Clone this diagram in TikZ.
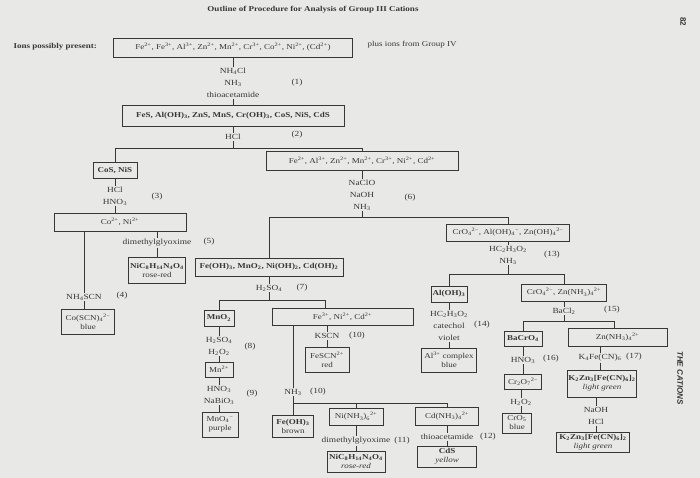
\documentclass[tikz,border=0pt]{standalone}
\usepackage{fontspec}
\setmainfont{Liberation Serif}[FakeStretch=1.2]
\newfontfamily\sidefont{Liberation Sans}

\definecolor{ink}{RGB}{55,55,55}
\definecolor{paper}{RGB}{232,232,230}

\newcommand{\chsb}[1]{\textsubscript{#1}}
\newcommand{\chsp}[1]{\textsuperscript{#1}}
\newcommand{\boxfont}{\fontsize{7.5}{9}\selectfont}
\newcommand{\reagfont}{\fontsize{7.8}{12}\selectfont}

\tikzset{
  box/.style={draw=ink, line width=0.6pt, inner sep=1pt, align=center, text=ink, font=\boxfont},
  bx/.style 2 args={box, minimum width=#1, minimum height=#2},
  reag/.style={inner sep=1pt, align=center, text=ink, font=\reagfont},
  stepno/.style={inner sep=0pt, text=ink, font=\reagfont},
  lnk/.style={draw=ink, line width=0.6pt}
}

\begin{document}
\begin{tikzpicture}[x=1pt, y=-1pt]
    \useasboundingbox (0,0) rectangle (700,478);
    \fill[paper] (0,0) rectangle (700,478);

    % Heading and page furniture
    \node[text=ink, font=\bfseries\fontsize{7.5}{9}\selectfont] (title) at (313,10) {Outline of Procedure for Analysis of Group III Cations};
    \node[rotate=-90, text=ink, font=\sidefont\bfseries\fontsize{8}{9}\selectfont] (pgno) at (683,22) {82};
    \node[rotate=-90, text=ink, font=\sidefont\bfseries\itshape\fontsize{8}{9}\selectfont] (runhead) at (680,378) {THE CATIONS};
    \node[anchor=west, text=ink, font=\bfseries\boxfont] (ionlbl) at (10,47) {Ions possibly present:};
    \node[anchor=west, text=ink, font=\boxfont] (grp4) at (364,45) {plus ions from Group IV};

    % Precipitation of the group (1), (2)
    \node[bx={239pt}{19pt}] (ions) at (233,47.5) {Fe\chsp{2+}, Fe\chsp{3+}, Al\chsp{3+}, Zn\chsp{2+}, Mn\chsp{2+}, Cr\chsp{3+}, Co\chsp{2+}, Ni\chsp{2+}, (Cd\chsp{2+})};
    \node[reag] (r1) at (233,83) {NH\chsb{4}Cl\\NH\chsb{3}\\thioacetamide};
    \node[bx={222pt}{21pt}] (sulf) at (233,115.5) {\textbf{FeS, Al(OH)\chsb{3}, ZnS, MnS, Cr(OH)\chsb{3}, CoS, NiS, CdS}};
    \node[reag] (r2) at (233,137) {HCl};
    \coordinate (j2) at (233,148);
    \coordinate (j2l) at (115,148);
    \coordinate (j2r) at (362,148);
    \node[bx={44pt}{16pt}] (cosnis) at (115,170) {\textbf{CoS, NiS}};
    \node[bx={192pt}{19pt}] (fe2box) at (362,160.5) {Fe\chsp{2+}, Al\chsp{3+}, Zn\chsp{2+}, Mn\chsp{2+}, Cr\chsp{3+}, Ni\chsp{2+}, Cd\chsp{2+}};
    \draw[lnk] (ions) -- (r1) -- (sulf);
    \draw[lnk] (sulf) -- (r2) -- (j2);
    \draw[lnk] (j2l) -- (j2r);
    \draw[lnk] (j2l) -- (cosnis);
    \draw[lnk] (j2r) -- (fe2box);

    % Cobalt and nickel (3), (4), (5)
    \node[reag] (r3) at (115,196) {HCl\\HNO\chsb{3}};
    \node[bx={132pt}{18pt}] (coni) at (120,222) {Co\chsp{2+}, Ni\chsp{2+}};
    \node[reag] (r4) at (84,297) {NH\chsb{4}SCN};
    \node[bx={53pt}{25pt}] (cosc) at (88,321.5) {Co(SCN)\chsb{4}\chsp{2−}\\blue};
    \node[reag] (r5) at (157,243) {dimethylglyoxime};
    \node[bx={57pt}{26pt}] (nidmg) at (157,270) {\textbf{NiC\chsb{8}H\chsb{14}N\chsb{4}O\chsb{4}}\\rose-red};
    \draw[lnk] (cosnis) -- (r3) -- (r3 |- coni.north);
    \draw[lnk] (coni.south -| r4) -- (r4) -- (r4 |- cosc.north);
    \draw[lnk] (coni.south -| r5) -- (r5) -- (nidmg);

    % Oxidation with hypochlorite (6)
    \node[reag] (r6) at (362,195) {NaClO\\NaOH\\NH\chsb{3}};
    \coordinate (j6) at (362,217);
    \coordinate (j6l) at (269,217);
    \coordinate (j6r) at (508,217);
    \node[bx={148pt}{18pt}] (hyd) at (269,267) {\textbf{Fe(OH)\chsb{3}, MnO\chsb{2}, Ni(OH)\chsb{2}, Cd(OH)\chsb{2}}};
    \node[bx={123pt}{17pt}] (amph) at (508,232.5) {CrO\chsb{4}\chsp{2−}, Al(OH)\chsb{4}\chsp{−}, Zn(OH)\chsb{4}\chsp{2−}};
    \draw[lnk] (fe2box) -- (r6) -- (j6);
    \draw[lnk] (j6l) -- (j6r);
    \draw[lnk] (j6l) -- (hyd);
    \draw[lnk] (j6r) -- (amph);

    % Hydroxides (7) to (12)
    \node[reag] (r7) at (269,288) {H\chsb{2}SO\chsb{4}};
    \coordinate (j7) at (269,300);
    \coordinate (j7l) at (219,300);
    \coordinate (j7r) at (325,300);
    \node[bx={30pt}{16pt}] (mno2) at (219,318) {\textbf{MnO\chsb{2}}};
    \node[bx={141pt}{17pt}] (fe3) at (342.5,316.5) {Fe\chsp{3+}, Ni\chsp{2+}, Cd\chsp{2+}};
    \draw[lnk] (hyd) -- (r7) -- (j7);
    \draw[lnk] (j7l) -- (j7r);
    \draw[lnk] (j7l) -- (mno2);
    \draw[lnk] (j7r) -- (j7r |- fe3.north);

    \node[reag] (r8) at (219,346) {H\chsb{2}SO\chsb{4}\\H\chsb{2}O\chsb{2}};
    \node[bx={28pt}{15pt}] (mn2) at (219,369.5) {Mn\chsp{2+}};
    \node[reag] (r9) at (219,395) {HNO\chsb{3}\\NaBiO\chsb{3}};
    \node[bx={36pt}{25pt}] (mno4) at (220,424.5) {MnO\chsb{4}\chsp{−}\\purple};
    \draw[lnk] (mno2) -- (r8) -- (mn2) -- (r9) -- (r9 |- mno4.north);

    \node[reag] (r10) at (327,336) {KSCN};
    \node[bx={44pt}{25pt}] (fescn) at (327,359.5) {FeSCN\chsp{2+}\\red};
    \node[reag] (r10b) at (293,392) {NH\chsb{3}};
    \coordinate (j10) at (293,403);
    \coordinate (j10r) at (447,403);
    \node[bx={41pt}{22pt}] (feoh) at (293,426) {\textbf{Fe(OH)\chsb{3}}\\brown};
    \node[bx={54pt}{17pt}] (ninh) at (356,416.5) {Ni(NH\chsb{3})\chsb{6}\chsp{2+}};
    \node[bx={63pt}{18pt}] (cdnh) at (447,416) {Cd(NH\chsb{3})\chsb{4}\chsp{2+}};
    \node[reag] (r11) at (356,441) {dimethylglyoxime};
    \node[bx={58pt}{21pt}] (nidmg2) at (356,461.5) {\textbf{NiC\chsb{8}H\chsb{14}N\chsb{4}O\chsb{4}}\\\textit{rose-red}};
    \node[reag] (r12) at (447,437) {thioacetamide};
    \node[bx={59pt}{21pt}] (cds) at (447,456.5) {\textbf{CdS}\\\textit{yellow}};
    \draw[lnk] (fe3.south -| r10) -- (r10) -- (fescn);
    \draw[lnk] (fe3.south -| r10b) -- (r10b) -- (j10);
    \draw[lnk] (j10) -- (j10r);
    \draw[lnk] (j10) -- (feoh);
    \draw[lnk] (j10 -| ninh) -- (ninh);
    \draw[lnk] (j10r) -- (cdnh);
    \draw[lnk] (ninh) -- (r11) -- (nidmg2);
    \draw[lnk] (cdnh) -- (r12) -- (cds);

    % Amphoteric ions (13) to (17)
    \node[reag] (r13) at (508,255) {HC\chsb{2}H\chsb{3}O\chsb{2}\\NH\chsb{3}};
    \coordinate (j13) at (508,274);
    \coordinate (j13l) at (449,274);
    \coordinate (j13r) at (564,274);
    \node[bx={36pt}{16pt}] (aloh) at (449,294) {\textbf{Al(OH)\chsb{3}}};
    \node[bx={85pt}{17pt}] (crzn) at (564,292.5) {CrO\chsb{4}\chsp{2−}, Zn(NH\chsb{3})\chsb{4}\chsp{2+}};
    \draw[lnk] (amph) -- (r13) -- (j13);
    \draw[lnk] (j13l) -- (j13r);
    \draw[lnk] (j13l) -- (aloh);
    \draw[lnk] (j13r) -- (crzn);

    \node[reag] (r14) at (449,326) {HC\chsb{2}H\chsb{3}O\chsb{2}\\catechol\\violet};
    \node[bx={55pt}{24pt}] (alcx) at (449,360) {Al\chsp{3+} complex\\blue};
    \draw[lnk] (aloh) -- (r14) -- (alcx);

    \node[reag] (r15) at (564,311) {BaCl\chsb{2}};
    \coordinate (j15) at (564,321);
    \coordinate (j15l) at (523,321);
    \coordinate (j15r) at (614,321);
    \node[bx={38pt}{15pt}] (bacro4) at (523,338.5) {\textbf{BaCrO\chsb{4}}};
    \node[bx={99pt}{18pt}] (znnh) at (617.5,337) {Zn(NH\chsb{3})\chsb{4}\chsp{2+}};
    \draw[lnk] (crzn) -- (r15) -- (j15);
    \draw[lnk] (j15l) -- (j15r);
    \draw[lnk] (j15l) -- (bacro4);
    \draw[lnk] (j15r) -- (j15r |- znnh.north);

    \node[reag] (r16) at (523,360) {HNO\chsb{3}};
    \node[bx={37pt}{15pt}] (cr2o7) at (523,381.5) {Cr\chsb{2}O\chsb{7}\chsp{2−}};
    \node[reag] (r16b) at (521,402) {H\chsb{2}O\chsb{2}};
    \node[bx={29pt}{20pt}] (cro5) at (517,423) {CrO\chsb{5}\\blue};
    \draw[lnk] (bacro4) -- (r16) -- (cr2o7);
    \draw[lnk] (cr2o7.south -| r16b) -- (r16b) -- (r16b |- cro5.north);

    \node[reag] (r17) at (600,358) {K\chsb{4}Fe(CN)\chsb{6}};
    \node[bx={68pt}{27pt}] (kzn1) at (602,383.5) {\textbf{K\chsb{2}Zn\chsb{3}[Fe(CN)\chsb{6}]\chsb{2}}\\\textit{light green}};
    \node[reag] (r18) at (596,416) {NaOH\\HCl};
    \node[bx={73pt}{20pt}] (kzn2) at (593,442) {\textbf{K\chsb{2}Zn\chsb{3}[Fe(CN)\chsb{6}]\chsb{2}}\\\textit{light green}};
    \draw[lnk] (znnh.south -| r17) -- (r17) -- (r17 |- kzn1.north);
    \draw[lnk] (kzn1.south -| r18) -- (r18) -- (r18 |- kzn2.north);

    % Step numbers
    \foreach \x/\y/\n [count=\i] in {297/83/1, 297/135/2, 157/197/3, 122/296/4, 209/242/5, 410/198/6,
        302/288/7, 250/347/8, 252/394/9, 357/336/10, 318/392/10, 402/441/11, 488/437/12,
        552/255/13, 482/325/14, 612/310/15, 551/359/16, 634/357/17} {
        \node[stepno] (step\i) at (\x,\y) {(\n)};
    }
\end{tikzpicture}
\end{document}
